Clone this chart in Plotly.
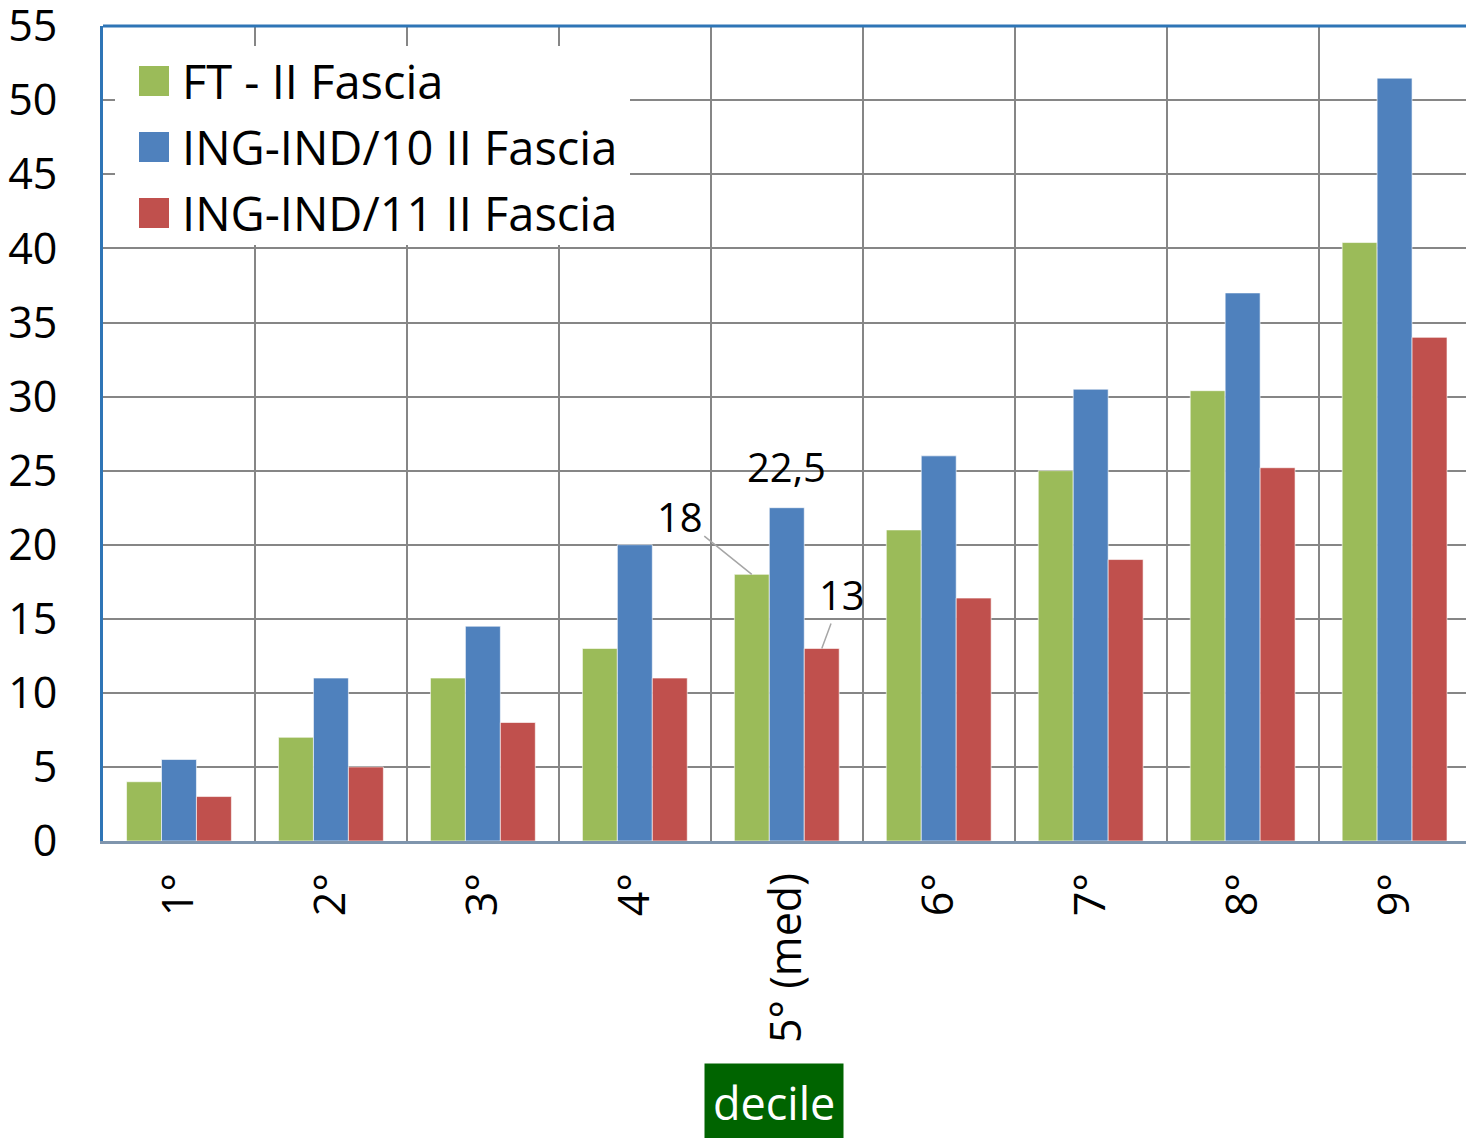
# Grouped bar chart: deciles for FT / ING-IND/10 / ING-IND/11 (II Fascia)

import plotly.graph_objects as go

deciles = ["1°", "2°", "3°", "4°", "5° (med)", "6°", "7°", "8°", "9°"]

series_names = ["FT - II Fascia", "ING-IND/10 II Fascia", "ING-IND/11 II Fascia"]
ft_values = [4, 7, 11, 13, 18, 21, 25, 30.4, 40.4]
ind10_values = [5.5, 11, 14.5, 20, 22.5, 26, 30.5, 37, 51.5]
ind11_values = [3, 5, 8, 11, 13, 16.4, 19, 25.2, 34]
y_ticks = list(range(0, 60, 5))

COLORS = ["#9BBB59", "#4F81BD", "#C0504D"]
FONT = "Open Sans"

W, H = 1466, 1138
L, R, T, B = 103, 0, 26, 297


# pixel -> paper coordinates (for the hand-drawn legend)
def px(x):
    return (x - L) / (W - L - R)


def py(y):
    return (H - B - y) / (H - T - B)


fig = go.Figure()
for name, vals, col in zip(series_names, [ft_values, ind10_values, ind11_values], COLORS):
    fig.add_trace(
        go.Bar(
            x=deciles,
            y=vals,
            name=name,
            marker_color=col,
            marker_line=dict(color="rgba(255,255,255,0.6)", width=1),
            showlegend=False,
        )
    )

shapes = [
    # legend background covering gridlines (no bars reach this area)
    dict(type="rect", xref="paper", yref="paper", x0=px(115), x1=px(630), y0=py(245), y1=py(46),
         fillcolor="white", line_width=0, layer="above"),
    # top border of plot area
    dict(type="line", xref="paper", yref="paper", x0=0, x1=1, y0=1, y1=1,
         line=dict(color="#2E75B6", width=3)),
]
annotations = []

# hand-drawn legend with large square swatches
for i, (name, col) in enumerate(zip(series_names, COLORS)):
    cy = 81 + i * 66
    shapes.append(dict(type="rect", xref="paper", yref="paper",
                       x0=px(139), x1=px(169), y0=py(cy + 15), y1=py(cy - 15),
                       fillcolor=col, line_width=0, layer="above"))
    annotations.append(dict(xref="paper", yref="paper", x=px(180), y=py(cy),
                            text=name, showarrow=False, xanchor="left", yanchor="middle",
                            font=dict(size=47, color="black", family=FONT)))

# data labels on the median group
annotations += [
    dict(x="5° (med)", y=ft_values[4], xshift=-35, text="18", showarrow=True,
         arrowhead=0, arrowcolor="#A6A6A6", arrowwidth=1.5, ax=-72, ay=-58,
         font=dict(size=40, color="black", family=FONT)),
    dict(x="5° (med)", y=ind10_values[4], text="22,5", showarrow=False,
         yanchor="bottom", yshift=12,
         font=dict(size=40, color="black", family=FONT)),
    dict(x="5° (med)", y=ind11_values[4], xshift=35, text="13", showarrow=True,
         arrowhead=0, arrowcolor="#A6A6A6", arrowwidth=1.5, ax=20, ay=-54,
         font=dict(size=40, color="black", family=FONT)),
    # axis title in a green box
    dict(xref="paper", yref="paper", x=px(774), y=py(1102), text="decile", showarrow=False,
         xanchor="center", yanchor="middle", bgcolor="#006400", borderpad=8,
         font=dict(size=45, color="white", family=FONT)),
]

fig.update_layout(
    width=W,
    height=H,
    margin=dict(l=L, r=R, t=T, b=B, autoexpand=False),
    paper_bgcolor="white",
    plot_bgcolor="white",
    barmode="group",
    bargap=0.31,
    bargroupgap=0,
    font=dict(family=FONT, color="black"),
    shapes=shapes,
    annotations=annotations,
)

fig.update_yaxes(
    range=[0, 55.02],
    tickmode="array",
    tickvals=y_ticks,
    automargin=False,
    ticklabeloverflow="allow",
    showgrid=True,
    gridcolor="#868686",
    gridwidth=2,
    zeroline=False,
    showline=True,
    linecolor="#2E75B6",
    linewidth=3,
    ticks="",
    ticklabelstandoff=34,
    tickfont=dict(size=43, family=FONT),
)

fig.update_xaxes(
    range=[-0.5, 8.47],
    tickson="boundaries",
    automargin=False,
    showgrid=True,
    gridcolor="#868686",
    gridwidth=2,
    showline=True,
    linecolor="#7F95AD",
    linewidth=3,
    ticks="",
    tickangle=-90,
    ticklabelstandoff=12,
    tickfont=dict(size=43, family=FONT),
)

# drop the default body margin so the figure fills the window exactly
fig.write_html(
    "out.html",
    config={"displayModeBar": False},
    post_script="document.body.style.margin = '0';",
)
